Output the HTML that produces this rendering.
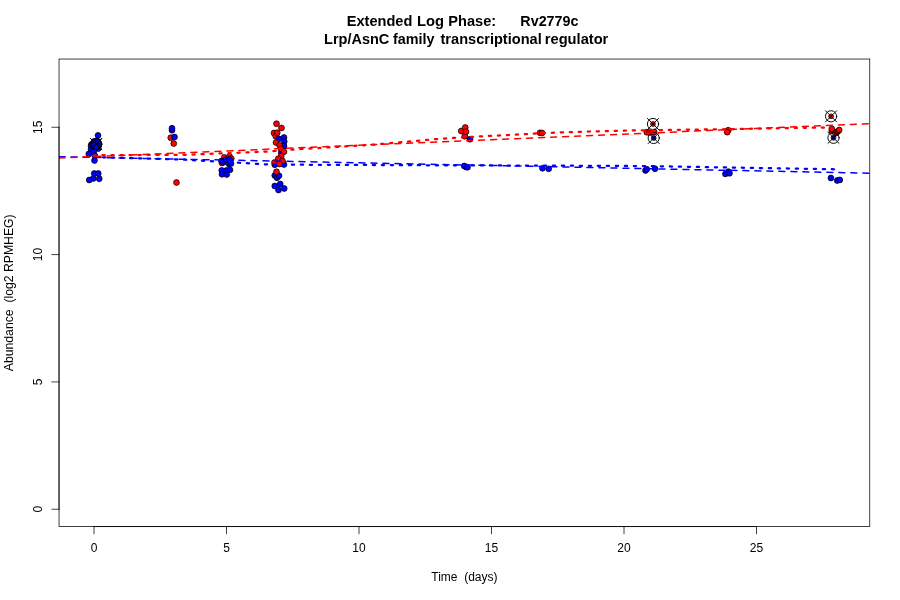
<!DOCTYPE html>
<html><head><meta charset="utf-8"><title>Extended Log Phase: Rv2779c</title>
<style>html,body{margin:0;padding:0;background:#fff;overflow:hidden}svg{display:block}text{font-family:"Liberation Sans",sans-serif;fill:#000}</style></head><body>
<svg width="900" height="600" viewBox="0 0 900 600">
<rect width="900" height="600" fill="#fff"/>
<defs><clipPath id="c"><rect x="59.04" y="59.04" width="810.72" height="467.52"/></clipPath></defs>
<g clip-path="url(#c)">
<g stroke="#000" stroke-width="0.75">
<circle cx="98" cy="135.4" r="2.9" fill="#0000FF"/>
<circle cx="94" cy="141.6" r="2.9" fill="#0000FF"/>
<circle cx="98" cy="141.4" r="2.9" fill="#0000FF"/>
<circle cx="98.6" cy="143.6" r="2.9" fill="#0000FF"/>
<circle cx="91.5" cy="144.5" r="2.9" fill="#0000FF"/>
<circle cx="95.5" cy="145" r="2.9" fill="#0000FF"/>
<circle cx="91" cy="145.8" r="2.9" fill="#0000FF"/>
<circle cx="98.4" cy="146.4" r="2.9" fill="#0000FF"/>
<circle cx="91" cy="149.4" r="2.9" fill="#0000FF"/>
<circle cx="94" cy="148.2" r="2.9" fill="#0000FF"/>
<circle cx="98.2" cy="148.6" r="2.9" fill="#0000FF"/>
<circle cx="96.5" cy="147.2" r="2.9" fill="#0000FF"/>
<circle cx="93.8" cy="151.5" r="2.9" fill="#0000FF"/>
<circle cx="88.8" cy="154" r="2.9" fill="#0000FF"/>
<circle cx="94.8" cy="155.6" r="2.9" fill="#0000FF"/>
<circle cx="94.5" cy="160.5" r="2.9" fill="#0000FF"/>
<circle cx="94.25" cy="173.5" r="2.9" fill="#0000FF"/>
<circle cx="98.25" cy="173.5" r="2.9" fill="#0000FF"/>
<circle cx="93.25" cy="178.5" r="2.9" fill="#0000FF"/>
<circle cx="99.25" cy="178.75" r="2.9" fill="#0000FF"/>
<circle cx="89.25" cy="180" r="2.9" fill="#0000FF"/>
<circle cx="172" cy="130.25" r="2.9" fill="#0000FF"/>
<circle cx="172" cy="128.25" r="2.9" fill="#0000FF"/>
<circle cx="170.75" cy="137.75" r="2.9" fill="#FF0000"/>
<circle cx="174.5" cy="137" r="2.9" fill="#0000FF"/>
<circle cx="173.75" cy="143.5" r="2.9" fill="#FF0000"/>
<circle cx="176.5" cy="182.5" r="2.9" fill="#FF0000"/>
<circle cx="224.25" cy="157.4" r="2.9" fill="#FF0000"/>
<circle cx="229.5" cy="156.4" r="2.9" fill="#FF0000"/>
<circle cx="222" cy="163" r="2.9" fill="#FF0000"/>
<circle cx="231.3" cy="158.6" r="2.9" fill="#FF0000"/>
<circle cx="221.5" cy="161" r="2.9" fill="#0000FF"/>
<circle cx="223.5" cy="162.2" r="2.9" fill="#0000FF"/>
<circle cx="226" cy="159.75" r="2.9" fill="#0000FF"/>
<circle cx="229.5" cy="159.5" r="2.9" fill="#0000FF"/>
<circle cx="229" cy="164" r="2.9" fill="#0000FF"/>
<circle cx="231" cy="163.5" r="2.9" fill="#0000FF"/>
<circle cx="221.75" cy="170.4" r="2.9" fill="#0000FF"/>
<circle cx="226.5" cy="170.4" r="2.9" fill="#0000FF"/>
<circle cx="230" cy="169.8" r="2.9" fill="#0000FF"/>
<circle cx="222" cy="174.25" r="2.9" fill="#0000FF"/>
<circle cx="226.75" cy="174.5" r="2.9" fill="#0000FF"/>
<circle cx="276.5" cy="123.75" r="2.9" fill="#FF0000"/>
<circle cx="281.5" cy="128" r="2.9" fill="#FF0000"/>
<circle cx="274" cy="133" r="2.9" fill="#FF0000"/>
<circle cx="275.75" cy="136.25" r="2.9" fill="#FF0000"/>
<circle cx="277.25" cy="132.75" r="2.9" fill="#FF0000"/>
<circle cx="284" cy="137.5" r="2.9" fill="#0000FF"/>
<circle cx="284.25" cy="141.5" r="2.9" fill="#0000FF"/>
<circle cx="278.75" cy="138.75" r="2.9" fill="#0000FF"/>
<circle cx="283.5" cy="145.5" r="2.9" fill="#0000FF"/>
<circle cx="284" cy="146.25" r="2.9" fill="#0000FF"/>
<circle cx="276" cy="142.5" r="2.9" fill="#FF0000"/>
<circle cx="279.6" cy="145.3" r="2.9" fill="#FF0000"/>
<circle cx="281.25" cy="152.75" r="2.9" fill="#0000FF"/>
<circle cx="281" cy="148.75" r="2.9" fill="#FF0000"/>
<circle cx="284" cy="151.75" r="2.9" fill="#FF0000"/>
<circle cx="281.25" cy="156" r="2.9" fill="#FF0000"/>
<circle cx="278.25" cy="158.75" r="2.9" fill="#FF0000"/>
<circle cx="274.75" cy="164.75" r="2.9" fill="#0000FF"/>
<circle cx="284" cy="164.5" r="2.9" fill="#0000FF"/>
<circle cx="274.5" cy="162.5" r="2.9" fill="#FF0000"/>
<circle cx="282.5" cy="161" r="2.9" fill="#FF0000"/>
<circle cx="279.5" cy="164" r="2.9" fill="#FF0000"/>
<circle cx="274.75" cy="175.5" r="2.9" fill="#0000FF"/>
<circle cx="277" cy="177.75" r="2.9" fill="#0000FF"/>
<circle cx="279" cy="175.75" r="2.9" fill="#0000FF"/>
<circle cx="276.5" cy="171.75" r="2.9" fill="#FF0000"/>
<circle cx="274.75" cy="186" r="2.9" fill="#0000FF"/>
<circle cx="280.25" cy="184" r="2.9" fill="#0000FF"/>
<circle cx="278.5" cy="190" r="2.9" fill="#0000FF"/>
<circle cx="284.25" cy="188.5" r="2.9" fill="#0000FF"/>
<circle cx="464.75" cy="136.25" r="2.9" fill="#FF0000"/>
<circle cx="461.25" cy="131" r="2.9" fill="#FF0000"/>
<circle cx="465.25" cy="127.5" r="2.9" fill="#FF0000"/>
<circle cx="466" cy="131.75" r="2.9" fill="#FF0000"/>
<circle cx="470" cy="139.25" r="2.9" fill="#0000FF"/>
<circle cx="464.25" cy="166" r="2.9" fill="#0000FF"/>
<circle cx="466" cy="167" r="2.9" fill="#0000FF"/>
<circle cx="467.5" cy="167.25" r="2.9" fill="#0000FF"/>
<circle cx="540" cy="132.8" r="2.9" fill="#FF0000"/>
<circle cx="542" cy="133" r="2.9" fill="#FF0000"/>
<circle cx="542.5" cy="168.3" r="2.9" fill="#0000FF"/>
<circle cx="548.7" cy="168.8" r="2.9" fill="#0000FF"/>
<circle cx="646.8" cy="132.2" r="2.9" fill="#FF0000"/>
<circle cx="649.3" cy="132.6" r="2.9" fill="#FF0000"/>
<circle cx="652" cy="132.2" r="2.9" fill="#FF0000"/>
<circle cx="654.2" cy="132" r="2.9" fill="#FF0000"/>
<circle cx="653" cy="124" r="2.4" fill="#FF0000"/>
<circle cx="653.7" cy="138" r="2.4" fill="#0000FF"/>
<circle cx="645.5" cy="170.5" r="2.9" fill="#0000FF"/>
<circle cx="646.75" cy="169.25" r="2.9" fill="#0000FF"/>
<circle cx="655" cy="168.75" r="2.9" fill="#0000FF"/>
<circle cx="728.3" cy="130.2" r="2.9" fill="#FF0000"/>
<circle cx="727.2" cy="132.2" r="2.9" fill="#FF0000"/>
<circle cx="725.4" cy="173.9" r="2.9" fill="#0000FF"/>
<circle cx="728.3" cy="171.6" r="2.9" fill="#0000FF"/>
<circle cx="729.5" cy="173.3" r="2.9" fill="#0000FF"/>
<circle cx="831.8" cy="131" r="2.9" fill="#FF0000"/>
<circle cx="831.8" cy="128.8" r="2.9" fill="#FF0000"/>
<circle cx="835.5" cy="133.3" r="2.9" fill="#FF0000"/>
<circle cx="836.8" cy="132.2" r="2.9" fill="#FF0000"/>
<circle cx="838" cy="131.2" r="2.9" fill="#FF0000"/>
<circle cx="839.2" cy="130" r="2.9" fill="#FF0000"/>
<circle cx="831.1" cy="116.3" r="2.4" fill="#FF0000"/>
<circle cx="833.5" cy="137.8" r="2.4" fill="#0000FF"/>
<circle cx="830.9" cy="178" r="2.9" fill="#0000FF"/>
<circle cx="837.2" cy="180.5" r="2.9" fill="#0000FF"/>
<circle cx="839.8" cy="179.9" r="2.9" fill="#0000FF"/>
</g>
<g stroke="#000" stroke-width="0.95" fill="none" stroke-linecap="round">
<circle cx="96" cy="144" r="5.6"/>
<path d="M90.4 138.4L101.6 149.6M90.4 149.6L101.6 138.4"/>
<circle cx="96.3" cy="144.2" r="5.6"/>
<path d="M90.7 138.6L101.9 149.8M90.7 149.8L101.9 138.6"/>
<circle cx="653" cy="124" r="5.6"/>
<path d="M647.4 118.4L658.6 129.6M647.4 129.6L658.6 118.4"/>
<circle cx="653.7" cy="138" r="5.6"/>
<path d="M648.1 132.4L659.3 143.6M648.1 143.6L659.3 132.4"/>
<circle cx="831.1" cy="116.3" r="5.6"/>
<path d="M825.5 110.7L836.7 121.9M825.5 121.9L836.7 110.7"/>
<circle cx="833.5" cy="137.8" r="5.6"/>
<path d="M827.9 132.2L839.1 143.4M827.9 143.4L839.1 132.2"/>
</g>
<g fill="none" stroke-linecap="round" stroke-linejoin="round">
<polyline points="59.04,156.7 869.76,173.2" stroke="#0000FF" stroke-width="1.5" stroke-dasharray="6 6"/>
<polyline points="94,157 185,159.7 239,162.75 265,164.3 292,164.7 374,165 436,165.3 543,165.6 650,166.1 727,167.5 835,169.3" stroke="#0000FF" stroke-width="2.25" stroke-dasharray="2.25 6.75"/>
<polyline points="59.04,158 869.76,123.7" stroke="#FF0000" stroke-width="1.5" stroke-dasharray="6 6"/>
<polyline points="93.5,155.5 104,155 140,155 185,154.8 265,151.7 292,149.6 320,147.9 374,144.6 436,139.1 463.5,137.25 526,134.1 542,133.1 590,131.5 633,130.4 672,129.9 727,129.2 744,128.9 797,127.9 827,127.5" stroke="#FF0000" stroke-width="2.25" stroke-dasharray="2.25 6.75"/>
</g></g>
<g stroke="#000" stroke-width="0.75" fill="none" stroke-linecap="round">
<path d="M94 526.56L756.5 526.56"/>
<path d="M94 526.56L94 533.76"/>
<path d="M226.5 526.56L226.5 533.76"/>
<path d="M359 526.56L359 533.76"/>
<path d="M491.5 526.56L491.5 533.76"/>
<path d="M624 526.56L624 533.76"/>
<path d="M756.5 526.56L756.5 533.76"/>
<path d="M59.04 509.24L59.04 127.28"/>
<path d="M59.04 509.24L51.84 509.24"/>
<path d="M59.04 381.92L51.84 381.92"/>
<path d="M59.04 254.6L51.84 254.6"/>
<path d="M59.04 127.28L51.84 127.28"/>
<rect x="59.04" y="59.04" width="810.72" height="467.52"/>
</g>
<g font-size="12" text-anchor="middle">
<text x="94" y="552.48">0</text>
<text x="226.5" y="552.48">5</text>
<text x="359" y="552.48">10</text>
<text x="491.5" y="552.48">15</text>
<text x="624" y="552.48">20</text>
<text x="756.5" y="552.48">25</text>
<text transform="translate(41.76 509.24) rotate(-90)">0</text>
<text transform="translate(41.76 381.92) rotate(-90)">5</text>
<text transform="translate(41.76 254.6) rotate(-90)">10</text>
<text transform="translate(41.76 127.28) rotate(-90)">15</text>
<text x="464.4" y="581.28" xml:space="preserve">Time  (days)</text>
<text transform="translate(12.96 292.8) rotate(-90)" xml:space="preserve" textLength="156.9" lengthAdjust="spacingAndGlyphs">Abundance  (log2 RPMHEG)</text>
</g>
<g font-size="15.3" font-weight="bold">
<text x="346.73" y="25.8" textLength="65.6" lengthAdjust="spacingAndGlyphs">Extended</text>
<text x="417.02" y="25.8" textLength="26.99" lengthAdjust="spacingAndGlyphs">Log</text>
<text x="448.33" y="25.8" textLength="47.86" lengthAdjust="spacingAndGlyphs">Phase:</text>
<text x="520.34" y="25.8" textLength="58.16" lengthAdjust="spacingAndGlyphs">Rv2779c</text>
<text x="324.03" y="43.6" textLength="65.35" lengthAdjust="spacingAndGlyphs">Lrp/AsnC</text>
<text x="393.03" y="43.6" textLength="41.53" lengthAdjust="spacingAndGlyphs">family</text>
<text x="440.5" y="43.6" textLength="101.23" lengthAdjust="spacingAndGlyphs">transcriptional</text>
<text x="544.79" y="43.6" textLength="63.55" lengthAdjust="spacingAndGlyphs">regulator</text>
</g>
</svg></body></html>
